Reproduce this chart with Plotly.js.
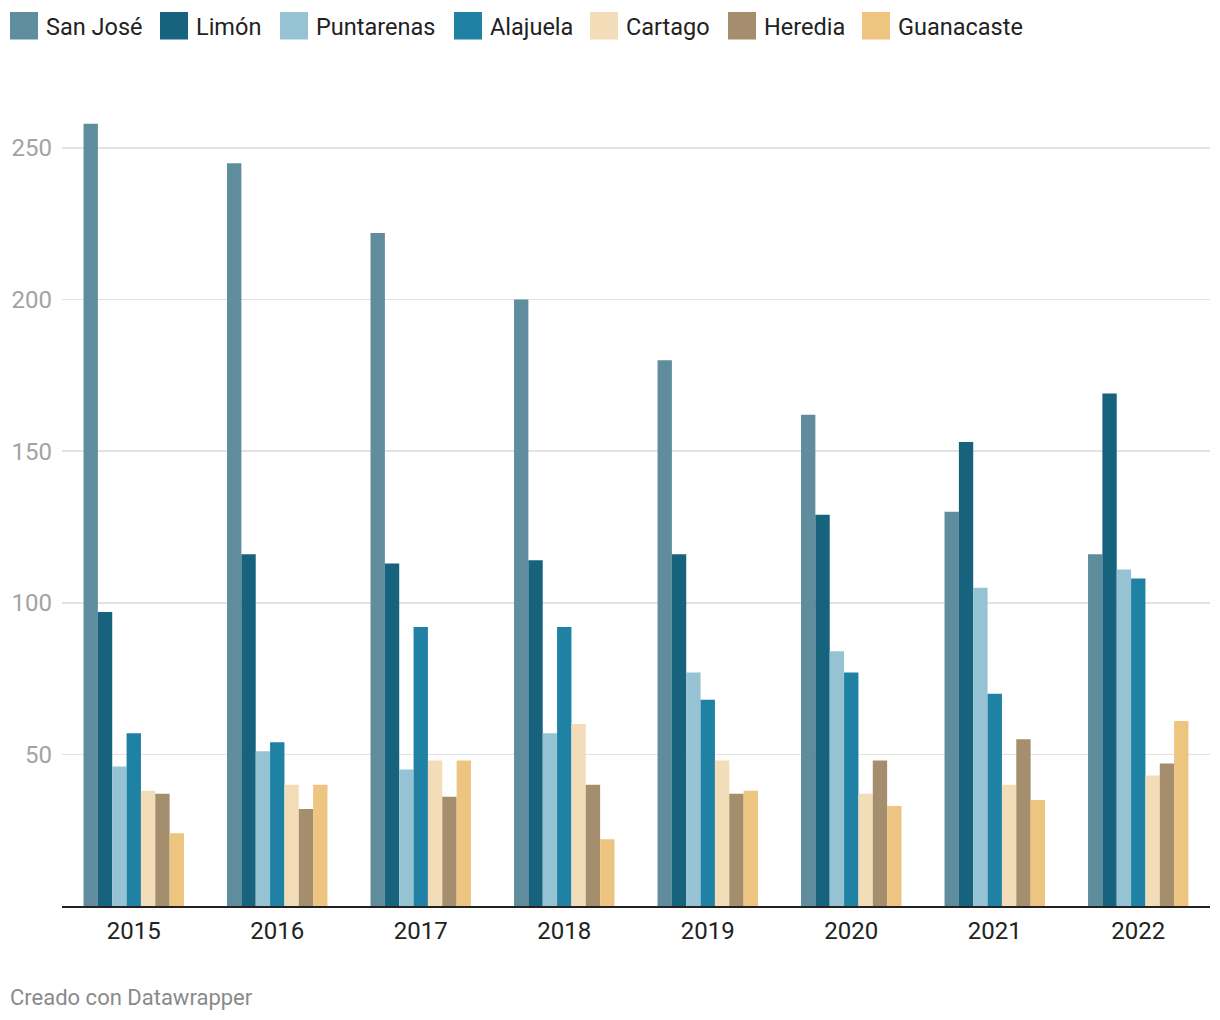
<!DOCTYPE html>
<html>
<head>
<meta charset="utf-8">
<script src="https://cdn.plot.ly/plotly-3.0.1.min.js"></script>
<style>
  html, body { margin: 0; padding: 0; background: #ffffff; }
  #chart { width: 1220px; height: 1020px; }
</style>
</head>
<body>
<div id="chart"></div>
<script>
// ---- Data ----
const years = ["2015", "2016", "2017", "2018", "2019", "2020", "2021", "2022"];
const provinces = ["San José", "Limón", "Puntarenas", "Alajuela", "Cartago", "Heredia", "Guanacaste"];
const sanJose    = [258, 245, 222, 200, 180, 162, 130, 116];
const limon      = [97, 116, 113, 114, 116, 129, 153, 169];
const puntarenas = [46, 51, 45, 57, 77, 84, 105, 111];
const alajuela   = [57, 54, 92, 92, 68, 77, 70, 108];
const cartago    = [38, 40, 48, 60, 48, 37, 40, 43];
const heredia    = [37, 32, 36, 40, 37, 48, 55, 47];
const guanacaste = [24, 40, 48, 22, 38, 33, 35, 61];
const yTicks = [50, 100, 150, 200, 250];

// ---- Styles ----
const seriesValues = [sanJose, limon, puntarenas, alajuela, cartago, heredia, guanacaste];
const colors = ["#5f8d9e", "#17627d", "#96c3d3", "#1f81a3", "#f3ddb8", "#a58e6d", "#edc580"];
const FONT = "Roboto, 'Noto Sans', sans-serif";

// plot geometry (px)
const L = 62, R = 10, T = 102, B = 114, W = 1220, H = 1020;
const PW = W - L - R, PH = H - T - B;
const px2x = px => (px - L) / PW;
const py2y = py => (H - B - py) / PH;

const traces = provinces.map((name, i) => ({
  type: "bar",
  name: name,
  x: years,
  y: seriesValues[i],
  marker: { color: colors[i], line: { width: 0 } },
  hoverinfo: "x+y+name",
  showlegend: false
}));

// custom legend (layout positions)
const legendSquareX = [10, 160, 280, 454, 590, 728, 862];
const shapes = [];
const annotations = [];
provinces.forEach((name, i) => {
  const x0 = legendSquareX[i];
  shapes.push({
    type: "rect", xref: "paper", yref: "paper",
    x0: px2x(x0), x1: px2x(x0 + 28),
    y0: py2y(39.5), y1: py2y(12),
    fillcolor: colors[i], line: { width: 0 }
  });
  annotations.push({
    xref: "paper", yref: "paper",
    x: px2x(x0 + 34), y: py2y(26.5),
    xanchor: "left", yanchor: "middle",
    text: name, showarrow: false,
    font: { family: FONT, size: 23.5, color: "#222222" }
  });
});
annotations.push({
  xref: "paper", yref: "paper",
  x: px2x(8), y: py2y(997),
  xanchor: "left", yanchor: "middle",
  text: "Creado con Datawrapper", showarrow: false,
  font: { family: FONT, size: 22, color: "#8a8a8a" }
});

const layout = {
  width: W, height: H,
  margin: { l: L, r: R, t: T, b: B, pad: 0 },
  paper_bgcolor: "#ffffff",
  plot_bgcolor: "#ffffff",
  font: { family: FONT },
  barmode: "group",
  bargap: 0.3,
  bargroupgap: 0,
  showlegend: false,
  xaxis: {
    type: "category",
    showgrid: false,
    showline: true, linecolor: "#222222", linewidth: 2,
    ticks: "", zeroline: false,
    ticklabelstandoff: 2,
    tickfont: { family: FONT, size: 24, color: "#222222" },
    fixedrange: true
  },
  yaxis: {
    range: [0, PH / 3.032],
    tickvals: yTicks,
    ticktext: yTicks.map(String),
    showgrid: true, gridcolor: "#e3e3e3", gridwidth: 1.5,
    zeroline: false, showline: false, ticks: "",
    ticklabelstandoff: 9,
    tickfont: { family: FONT, size: 24, color: "#a3a3a3" },
    fixedrange: true
  },
  shapes: shapes,
  annotations: annotations
};

Plotly.newPlot("chart", traces, layout, { displayModeBar: false, staticPlot: true });
</script>
</body>
</html>
